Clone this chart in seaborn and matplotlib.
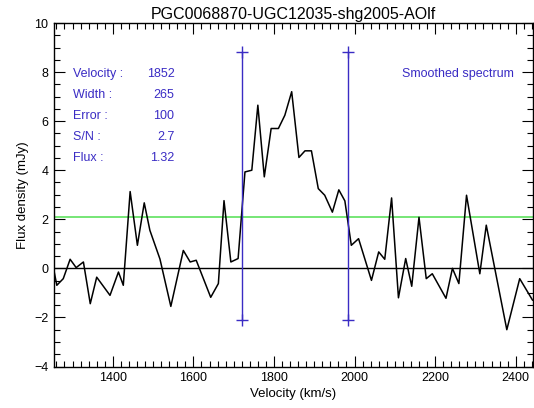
import matplotlib
matplotlib.use("Agg")
import matplotlib.pyplot as plt
from matplotlib.ticker import MultipleLocator
import seaborn as sns
import pandas as pd

# Smoothed HI spectrum: channel velocities (km/s) and flux densities (mJy)
velocity = [1254, 1261, 1277, 1294, 1309, 1327, 1344, 1360, 1393, 1414,
            1426, 1443, 1461, 1478, 1492, 1517, 1544, 1575, 1592, 1607,
            1643, 1662, 1676, 1693, 1711, 1728, 1745, 1760, 1776, 1793,
            1811, 1827, 1844, 1862, 1877, 1893, 1910, 1926, 1945, 1961,
            1976, 1992, 2010, 2042, 2060, 2075, 2092, 2109, 2127, 2142,
            2160, 2178, 2193, 2227, 2243, 2259, 2278, 2311, 2327, 2378,
            2410, 2442]
flux = [-0.10, -0.69, -0.42, 0.37, 0.03, 0.26, -1.44, -0.36, -1.10, -0.15,
        -0.69, 3.13, 0.94, 2.67, 1.55, 0.38, -1.55, 0.73, 0.26, 0.33,
        -1.18, -0.62, 2.76, 0.26, 0.40, 3.93, 4.00, 6.65, 3.73, 5.70,
        5.70, 6.24, 7.20, 4.52, 4.79, 4.79, 3.25, 2.98, 2.29, 3.20,
        2.75, 0.94, 1.21, -0.49, 0.67, 0.37, 2.87, -1.20, 0.40, -0.73,
        2.08, -0.42, -0.22, -1.22, 0.00, -0.62, 2.98, -0.22, 1.76, -2.50,
        -0.42, -1.30]

title = "PGC0068870-UGC12035-shg2005-AOlf"
info_labels = ["Velocity :", "Width :", "Error :", "S/N :", "Flux :"]
info_values = ["1852", "265", "100", "2.7", "1.32"]

v_center = 1852
v_width = 265
threshold = 2.1
marker_range = [-2.1, 8.8]

xlim = (1254, 2443)
ylim = (-4, 10)

sns.set_theme(style="ticks")
plt.rcParams["font.family"] = ["Liberation Sans", "DejaVu Sans"]

fig = plt.figure(figsize=(5.34, 4.08), dpi=100)
ax = fig.add_axes([54 / 534, 1 - 366.5 / 408, (533 - 54) / 534, (366.5 - 23) / 408])

blue = "#3a2cc4"
green = "#6be46b"

df = pd.DataFrame({"velocity": velocity, "flux": flux})
sns.lineplot(data=df, x="velocity", y="flux", sort=False, estimator=None,
             color="black", linewidth=1.1, ax=ax, zorder=3)

ax.axhline(0, color="black", linewidth=1.0, zorder=2)
ax.axhline(threshold, color=green, linewidth=1.3, zorder=2)

for edge in (v_center - v_width / 2, v_center + v_width / 2):
    ax.plot([edge, edge], marker_range, color=blue, linewidth=1.0,
            marker="+", markersize=8, markeredgewidth=1.0, zorder=4)

ax.set_xlim(*xlim)
ax.set_ylim(*ylim)
ax.xaxis.set_major_locator(MultipleLocator(200))
ax.xaxis.set_minor_locator(MultipleLocator(20))
ax.yaxis.set_major_locator(MultipleLocator(2))
ax.yaxis.set_minor_locator(MultipleLocator(0.5))
ax.tick_params(which="both", direction="in", top=True, right=True,
               color="black", width=0.8, labelsize=9, labelcolor="black")
ax.tick_params(which="major", length=8, pad=4)
ax.tick_params(which="minor", length=4)
for s in ax.spines.values():
    s.set_color("black")
    s.set_linewidth(1.0)

ax.set_xlabel("Velocity (km/s)", fontsize=9.5, color="black", labelpad=3)
ax.set_ylabel("Flux density (mJy)", fontsize=9.5, color="black", labelpad=4)
ax.set_title(title, fontsize=11.5, color="black", pad=3)

row_y = [7.92, 7.06, 6.20, 5.35, 4.49]
for lab, val, y in zip(info_labels, info_values, row_y):
    ax.text(1301, y, lab, color=blue, fontsize=9, va="center", ha="left")
    ax.text(1553, y, val, color=blue, fontsize=9, va="center", ha="right")
ax.text(2395, row_y[0], "Smoothed spectrum", color=blue, fontsize=9,
        va="center", ha="right")

ax.set_facecolor("white")
fig.patch.set_facecolor("white")
fig.savefig("out.png", dpi=100, facecolor="white")
